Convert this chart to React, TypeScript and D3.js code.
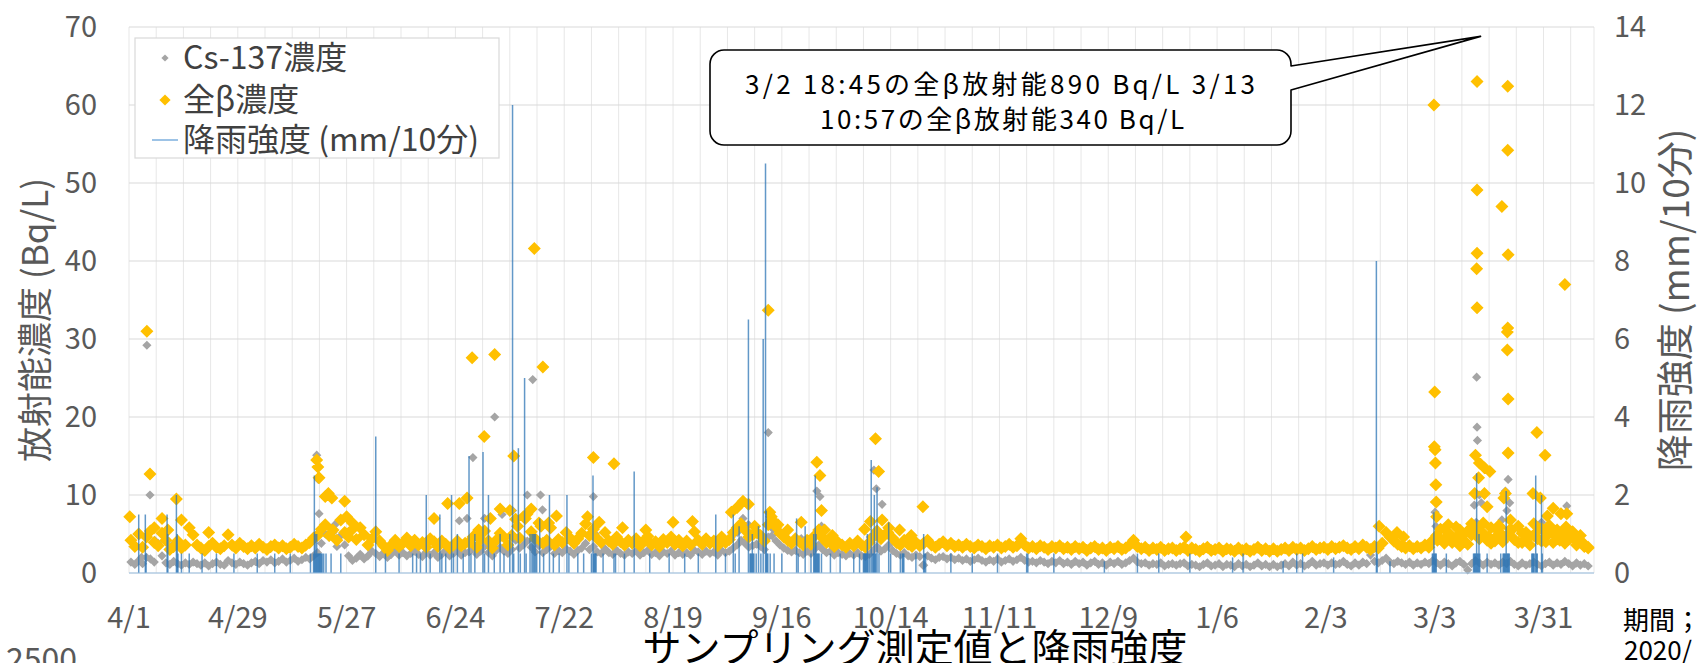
import React from "react";
import * as d3 from "d3";

// ---------- DATA ----------
// day index = days since 2020-04-01
const xTickLabels = ["4/1","4/29","5/27","6/24","7/22","8/19","9/16","10/14","11/11","12/9","1/6","2/3","3/3","3/31"];
const xTickDays = [0,28,56,84,112,140,168,196,224,252,280,308,336,364];
const leftTicks = [0,10,20,30,40,50,60,70];
const rightTicks = [0,2,4,6,8,10,12,14];

// daily 全β concentration (Bq/L), day 0..375
const betaDaily = [
  4.2,3.4,5.0,
  3.3,4.6,5.4,3.9,3.5,5.1,4.2,3.0,3.4,4.1,3.2,3.6,5.8,4.9,
  3.6,3.2,2.9,3.4,3.8,3.3,3.1,3.5,4.9,3.6,3.2,3.8,3.4,3.1,
  3.5,3.2,3.7,3.3,3.0,3.4,3.6,3.2,3.5,3.1,3.3,3.7,3.4,3.2,
  3.6,3.9,4.5,4.8,5.6,6.2,4.8,5.5,4.2,6.8,5.2,4.6,5.6,4.3,
  5.8,4.9,3.6,4.4,5.3,4.1,3.5,2.9,3.6,4.2,3.4,3.8,4.5,3.5,
  4.2,3.6,3.9,3.3,4.4,4.0,3.4,4.1,3.7,3.2,3.6,4.1,3.5,3.8,
  3.9,4.6,3.3,4.3,5.4,4.1,3.2,4.2,5.1,4.6,3.6,4.8,6.9,4.5,
  7.2,7.6,5.3,4.4,6.4,3.8,4.2,5.8,3.6,4.3,3.9,5.2,4.5,3.8,
  4.4,5.1,6.3,4.8,5.6,4.4,3.9,5.2,4.1,3.7,4.6,4.0,3.6,4.2,
  3.8,4.4,3.5,4.1,4.7,3.6,4.0,3.4,4.3,3.9,4.6,3.7,4.2,3.5,
  4.1,3.6,5.3,4.2,3.7,4.4,3.8,4.1,3.5,4.6,3.9,4.3,5.2,5.8,
  6.3,5.5,4.6,4.9,5.2,4.8,4.1,6.2,6.8,5.9,5.1,4.6,4.2,3.8,
  4.4,4.0,3.6,4.2,3.7,4.8,5.5,4.5,3.9,4.3,3.4,3.9,3.6,3.3,
  3.8,3.5,4.1,3.6,3.3,3.9,4.6,5.4,4.4,4.9,5.8,4.5,3.9,3.6,
  4.2,3.7,3.4,3.9,3.5,3.8,4.2,3.6,3.3,3.7,4.0,3.5,3.8,3.4,
  3.6,3.3,3.7,3.4,3.2,3.6,3.4,3.1,3.5,3.3,3.6,3.2,3.4,3.7,
  3.3,3.5,4.4,3.6,3.2,3.4,3.1,3.5,3.3,3.0,3.4,3.2,3.5,3.1,
  3.3,3.0,3.4,3.1,3.3,2.9,3.2,3.4,3.0,3.2,2.9,3.3,3.1,3.4,
  3.0,3.2,3.6,4.2,3.4,3.1,3.3,2.9,3.2,3.0,3.3,2.9,3.1,3.2,
  2.9,3.1,3.3,2.9,3.2,3.0,2.8,3.1,3.3,2.9,3.0,3.2,2.8,3.1,
  3.0,2.8,3.2,2.9,3.1,2.8,3.0,3.3,2.9,3.1,2.8,
  3.1,2.8,3.0,3.2,2.9,3.3,3.0,3.2,2.9,3.1,3.4,3.0,3.2,3.3,
  3.0,3.4,3.1,3.3,3.5,3.2,3.0,3.4,3.1,3.6,3.3,3.0,3.4,3.2,
  3.8,5.2,4.6,4.1,3.7,3.4,3.2,3.5,3.1,3.4,3.2,3.6,3.3,4.2,
  4.8,5.6,4.4,5.2,3.9,4.6,5.5,4.1,3.7,4.9,5.8,4.4,5.1,4.2,
  3.8,4.5,5.3,4.0,4.7,5.6,4.3,3.9,5.1,4.4,3.6,4.8,5.4,4.1,
  4.6,5.2,3.9,4.4,5.0,3.8,4.3,4.9,3.6,4.1,3.4,3.2,
];

// daily Cs-137 concentration (Bq/L), day 0..375
const csDaily = [
  1.4,1.1,1.6,
  1.2,2.0,1.8,1.4,3.8,2.2,1.3,1.1,1.5,1.2,1.0,1.3,1.1,1.4,
  1.2,1.0,1.3,0.9,1.2,1.4,1.1,1.0,1.6,1.3,1.1,1.4,1.2,1.0,
  1.3,1.5,1.2,1.6,1.4,1.7,1.3,1.5,1.8,1.4,1.6,1.9,1.5,1.7,
  2.0,1.8,2.2,2.6,3.8,5.0,4.6,5.2,3.4,4.8,3.6,2.2,1.6,1.9,
  2.4,1.8,2.2,2.8,2.5,2.1,2.6,2.0,2.4,2.9,2.3,2.6,2.2,2.5,
  2.8,2.4,2.1,2.7,2.3,2.6,2.0,2.4,2.9,2.2,2.5,2.8,2.3,2.6,
  2.7,3.1,2.4,2.8,3.4,2.6,2.2,2.9,3.3,2.8,2.5,3.0,4.2,3.2,
  3.6,4.1,3.3,2.7,3.5,2.6,3.0,3.4,2.5,2.9,2.6,3.1,2.8,2.4,
  2.9,3.2,3.8,3.0,3.4,2.7,2.5,3.1,2.6,2.4,2.9,2.5,2.3,2.7,
  2.5,2.8,2.3,2.6,2.9,2.4,2.6,2.2,2.7,2.5,2.8,2.3,2.6,2.4,
  2.6,2.3,2.9,2.7,2.4,2.8,2.5,2.7,2.3,2.9,2.6,2.8,3.2,3.6,
  4.2,3.8,3.3,3.5,3.7,3.4,3.0,4.6,4.8,4.1,3.6,3.2,2.9,2.7,
  2.9,2.6,2.4,2.8,2.5,3.1,3.6,3.0,2.6,2.8,2.3,2.6,2.4,2.2,
  2.5,2.3,2.6,2.2,2.1,2.4,2.9,3.4,2.8,3.1,3.6,2.9,2.5,2.3,
  2.6,2.2,2.0,2.3,2.1,1.0,2.2,1.9,1.7,2.0,2.1,1.8,2.0,1.7,
  1.9,1.6,1.8,1.5,1.7,1.9,1.6,1.4,1.7,1.5,1.8,1.4,1.6,1.8,
  1.5,1.7,2.0,1.6,1.4,1.5,1.3,1.6,1.4,1.2,1.5,1.3,1.6,1.2,
  1.4,1.1,1.5,1.2,1.4,1.0,1.3,1.5,1.1,1.3,1.0,1.4,1.2,1.5,
  1.1,1.3,1.6,1.9,1.4,1.2,1.3,1.0,1.2,1.1,1.3,0.9,1.1,1.2,
  1.0,1.2,1.3,0.9,1.1,1.0,0.8,1.1,1.3,0.9,1.0,1.2,0.8,1.1,
  1.0,0.8,1.2,0.9,1.1,0.8,1.0,1.3,0.9,1.1,0.8,
  1.1,0.8,1.0,1.2,0.9,1.4,1.0,1.2,0.9,1.1,1.5,1.0,1.2,1.3,
  1.0,1.3,1.1,1.2,1.5,1.1,0.9,1.3,1.0,1.4,1.2,2.3,1.5,1.3,
  1.6,1.9,1.4,1.2,1.5,1.3,1.1,1.4,1.0,1.3,1.1,1.4,1.2,1.6,
  1.3,1.0,1.4,1.2,0.9,1.3,1.5,1.1,0.4,1.2,1.6,1.3,1.0,1.4,
  1.1,1.3,1.0,1.4,1.2,1.5,1.1,0.9,1.3,1.0,1.2,1.4,1.1,0.9,
  1.2,1.4,1.0,1.3,1.1,1.5,1.2,0.9,1.3,1.0,1.2,0.9,
];

// additional 全β samples taken during events [day, Bq/L]
const betaEvents: [number, number][] = [
  [0.2,7.2],[4.6,31.0],[5.4,12.7],[6.5,5.8],[8.5,7.0],[10,5.5],[12.2,9.5],[13.5,6.8],[20.5,5.2],
  [48.3,14.5],[48.6,13.6],[48.9,12.2],[50.5,9.8],[51.3,10.2],[52.2,9.6],[55.5,9.2],[56,7.2],[57.5,6.4],
  [78.5,7.0],[82,8.9],[85,8.9],[87,9.6],[88.3,27.6],[90,5.5],[91.4,17.5],[93,7.0],[94.1,28.0],
  [95.5,8.2],[98,8.0],[99,15.0],[100,6.0],[102,7.0],[104.3,41.6],[103.5,8.2],[106.5,26.4],[106,6.0],
  [108,6.4],[110,7.3],
  [118,7.2],[119.5,14.8],[121,6.5],[124.8,14.0],[127,5.8],[133,5.5],[140,6.5],[145,6.6],
  [155,7.8],[156.5,8.4],[158,9.2],[159.4,8.8],[161,6.0],[164.5,33.7],[164.9,7.8],[165.3,7.2],[167,6.2],
  [169.5,5.5],[173,6.5],[177,14.2],[177.8,12.5],[178.2,8.0],[179,5.5],[181,4.8],
  [189.3,5.6],[190.8,6.6],[192.1,17.2],[192.9,13.0],[193.8,6.8],[195.3,5.2],[198.3,5.5],[201.3,4.8],[204.3,8.5],
  [272,4.6],[321.7,6.0],[326.3,5.2],[328,4.6],
  [335.8,60.0],[336.0,23.2],[335.9,16.2],[336.1,15.8],[336.2,14.1],[336.3,11.3],[336.4,9.1],[336.5,7.2],
  [336.7,4.2],[337.5,5.6],[338.5,3.8],[339.5,6.2],[340.5,4.5],[341.5,5.9],[342.5,3.5],[343.5,4.9],
  [344.5,5.4],[345.5,6.3],
  [346.9,63.0],[346.9,49.1],[346.9,41.0],[346.8,39.0],[346.9,34.0],[346.5,15.1],[347.5,14.1],[348.8,13.5],
  [350.2,13.0],[346.3,10.2],[348.8,10.2],[349.5,8.5],[347.3,12.2],
  [347.8,5.2],[348.5,6.4],[349.8,4.6],[350.5,5.8],[351.5,4.1],[352.5,6.1],[353.5,4.8],
  [354.8,62.4],[354.8,54.2],[353.3,47.0],[354.9,40.8],[354.8,31.4],[354.7,30.9],[354.7,28.6],[354.9,22.3],
  [354.9,15.4],[354.2,10.2],[353.8,9.6],[352.8,5.9],[355.5,6.8],
  [355.8,5.5],[356.5,4.3],[357.5,6.0],[358.5,3.9],[359.5,5.2],[360.5,4.7],[361.5,6.3],[362.5,4.4],
  [361.3,10.2],[362.3,18.0],[363.2,9.6],[364.4,15.1],[365.0,7.3],[366.5,8.3],[368.5,7.6],[369.5,37.0],
  [370.0,7.6],[371,5.1],[363.5,5.7],[364.6,4.0],[365.5,6.1],[366.8,4.9],[367.5,5.5],[368.2,4.2],
  [369.8,5.9],[370.5,4.6],[371.5,5.3],[372.5,4.1],[373.5,4.8],[374.5,3.7],[375.5,3.3],
];

// additional Cs-137 samples taken during events [day, Bq/L]
const csEvents: [number, number][] = [
  [3.2,2.0],[4.6,29.2],[5.4,10.0],[6.6,4.2],[11,3.5],
  [48.3,15.1],[48.7,12.0],[48.9,7.6],[49.5,5.2],[53,6.2],[55.3,5.0],
  [85,6.7],[87,7.0],[88.5,14.8],[91.5,7.0],[94.1,20.0],[96,7.5],[98.7,8.0],[102.5,10.0],[103.3,8.2],
  [103.9,24.8],[105.9,10.0],[106.4,8.1],
  [119.5,9.8],[120,5.0],[125,4.2],
  [155,4.6],[156.5,5.2],[158,7.0],[159.4,6.2],[164.5,18.0],[165.1,6.8],[165.8,5.6],[173,4.4],
  [177,10.5],[177.8,9.8],[178.2,6.0],
  [190.8,4.6],[191.7,13.2],[192.3,10.8],[193.8,8.8],[204.3,1.0],
  [336.1,7.8],[336.3,6.0],
  [346.8,25.1],[346.9,18.7],[347.0,17.0],[347.2,12.3],[346.2,8.7],[347.5,10.0],[348,9.0],[346.7,6.5],
  [354.9,12.0],[354.2,10.5],[353.3,6.8],[355.3,9.0],[354.6,8.0],
  [362.5,5.8],[363.5,6.5],[366.3,5.0],[370,8.6],
];

// rainfall intensity (mm / 10 min) [day, mm]
const rainEvents: [number, number][] = [
  [2.5,1.5],[4.2,1.5],[4.4,0.5],[9.8,1.5],[10.0,1.0],[12.2,2.0],[12.4,1.0],[12.6,0.5],[13.5,0.5],
  [15.5,0.5],[18.8,0.5],[22.5,0.5],[27.0,0.5],[33.0,0.5],[37.5,0.5],[41.5,0.5],
  [46.7,0.5],[47.5,0.5],[47.7,2.5],[47.9,1.0],[48.1,0.5],[48.3,1.0],[48.5,0.5],[48.7,0.5],[48.9,0.5],
  [49.1,0.5],[49.3,0.5],[49.5,0.5],[49.7,0.5],[50.1,0.5],[50.7,0.5],[52.0,0.5],[54.5,0.5],
  [63.5,3.5],[66.0,0.5],[69.5,0.5],[73.0,0.5],[74.0,0.5],[75.0,0.5],[76.5,2.0],[77.5,0.5],[80.0,1.5],
  [80.5,0.5],[81.5,0.5],[83.0,2.0],[83.5,0.5],[84.5,1.0],[86.0,0.5],[87.5,3.0],[88.0,0.5],[89.0,1.0],
  [91.1,3.1],[91.5,0.5],[92.5,2.0],
  [94.0,0.5],[95.5,1.0],[96.5,0.5],[98.0,1.0],[98.7,12.0],[99.0,0.5],[100.2,3.2],[100.7,0.5],[101.8,5.0],
  [102.2,0.5],[103.2,1.0],[103.7,1.0],[104.0,1.0],[104.3,1.0],[104.6,1.0],[104.9,0.5],[105.7,1.4],
  [106.7,0.5],[108.2,2.0],[109.2,0.5],[110.7,0.5],[112.7,2.0],[113.2,0.5],
  [115.5,0.5],[117.0,0.5],[119.0,0.5],[119.4,2.5],[119.6,0.5],[119.8,0.5],[120.0,0.5],[120.2,0.5],[122.0,0.5],
  [124.8,0.5],[125.2,0.5],[127.5,0.5],[130.0,2.6],[134.0,0.5],[139.0,0.5],[143.0,0.5],[146.5,0.5],[151.0,1.5],
  [153.5,0.5],[155.5,1.5],[156.0,0.5],[157.0,1.2],[159.4,6.5],[159.8,0.5],[160.0,0.5],[160.2,0.5],
  [160.4,1.0],[160.6,0.5],[160.8,0.5],[161.4,0.5],[162.0,1.2],[162.6,0.5],[163.2,6.0],[163.8,10.5],
  [164.0,1.6],[164.2,0.5],[164.4,0.5],[165.0,0.5],[166.0,0.5],[168.0,0.5],[171.8,1.4],[172.2,0.5],
  [174.0,1.2],[175.5,0.5],[176.2,1.0],[176.4,0.5],[176.6,2.5],[176.8,1.0],[177.0,0.5],[177.2,0.5],
  [177.4,0.5],[177.6,0.5],[178.2,0.5],[180.5,0.5],[183.0,0.5],
  [186.5,0.5],[188.0,0.5],[189.0,0.5],[189.2,0.5],[189.4,0.5],[189.6,0.5],[189.8,0.5],[190.0,1.0],
  [190.2,0.5],[190.6,0.5],[191.0,2.9],[191.4,0.5],[191.6,0.5],[191.8,2.0],[192.0,0.5],[192.2,0.5],
  [192.5,2.2],[193.0,0.5],[195.5,1.3],[196.0,0.5],[198.5,0.5],[199.0,0.5],[199.2,0.5],[199.4,0.5],
  [202.5,0.5],[204.5,1.0],[204.7,0.5],[205.0,0.5],
  [211.5,0.5],[217.0,0.5],[223.5,0.5],[231.0,0.5],[231.3,0.5],[238.0,0.5],
  [251.0,0.3],[259.5,0.5],[265.0,0.5],[273.0,0.5],[284.0,0.4],[286.7,0.5],[297.0,0.3],
  [300.5,0.5],[302.0,0.5],[310.0,0.4],[321.0,8.0],[321.2,0.5],[324.5,0.3],
  [335.4,0.5],[335.6,0.5],[335.8,1.56],[336.0,0.5],[336.2,0.5],[336.4,0.5],[339.0,0.5],
  [346.0,0.5],[346.2,0.5],[346.4,0.5],[346.6,0.5],[346.8,2.56],[347.0,0.5],[347.2,0.5],[347.4,1.0],
  [347.6,0.5],[349.5,0.5],[353.0,0.5],[353.6,0.5],[353.8,0.5],[354.0,0.5],[354.2,0.5],[354.4,2.1],
  [354.6,0.5],[354.8,0.5],[355.0,0.5],[355.2,0.5],[361.0,0.5],[361.2,0.5],[361.4,0.5],[361.6,0.5],
  [362.0,2.5],[362.2,0.5],[362.4,0.5],[363.5,2.0],[363.7,0.5],
];

const legendLabels = ["Cs-137濃度", "全β濃度", "降雨強度 (mm/10分)"];
const calloutLines = ["3/2  18:45の全β放射能890 Bq/L 3/13", "10:57の全β放射能340 Bq/L"];

// ---------- CHART ----------
const START = Date.UTC(2020, 3, 1);
const dayToDate = (d: number) => new Date(START + d * 86400000);

const FONT = '"Noto Sans CJK JP", "Noto Sans", sans-serif';
const GOLD = "#FFC000";
const GRAY = "#A5A5A5";
const TXT = "#595959";

const x = d3.scaleUtc().domain([dayToDate(0), dayToDate(377)]).range([129, 1594]);
const yL = d3.scaleLinear().domain([0, 70]).range([573, 27]);
const yR = d3.scaleLinear().domain([0, 14]).range([573, 27]);

const diamond = (cx: number, cy: number, h: number) =>
  `M${cx},${cy - h}L${cx + h},${cy}L${cx},${cy + h}L${cx - h},${cy}Z`;

export default function App() {
  const [x0, x1] = x.range();
  const [yBottom, yTop] = yL.range();
  const weekly = d3.range(0, 372, 7);

  const betaPts: [number, number][] = betaDaily.map((v, i) => [i + 0.5, v] as [number, number]).concat(betaEvents);
  const csPts: [number, number][] = csDaily.map((v, i) => [i + 0.5, v] as [number, number]).concat(csEvents);

  const gPath = betaPts.map(([d, v]) => diamond(x(dayToDate(d)), yL(v), 6.5)).join("");
  const cPath = csPts.map(([d, v]) => diamond(x(dayToDate(d)), yL(v), 4.6)).join("");

  // callout geometry
  const bx0 = 710, by0 = 50, bx1 = 1291, by1 = 145, r = 14;
  const tipX = x(dayToDate(347.8));
  const tipY = yL(68.8);
  const callout =
    `M${bx0 + r},${by0} H${bx1 - r} A${r},${r} 0 0 1 ${bx1},${by0 + r} V66 L${tipX},${tipY} L${bx1},90 ` +
    `V${by1 - r} A${r},${r} 0 0 1 ${bx1 - r},${by1} H${bx0 + r} A${r},${r} 0 0 1 ${bx0},${by1 - r} ` +
    `V${by0 + r} A${r},${r} 0 0 1 ${bx0 + r},${by0} Z`;

  return (
    <svg width={1700} height={663} style={{ display: "block", position: "absolute", left: 0, top: 0 }}
      fontFamily={FONT}>
      <rect x={0} y={0} width={1700} height={663} fill="#fff" />
      {/* vertical gridlines (weekly) */}
      {weekly.map((d) => (
        <line key={"v" + d} x1={x(dayToDate(d))} x2={x(dayToDate(d))} y1={yTop} y2={yBottom}
          stroke="#e7e7e7" strokeWidth={1} />
      ))}
      <line x1={x1} x2={x1} y1={yTop} y2={yBottom} stroke="#e7e7e7" />
      {/* horizontal gridlines */}
      {leftTicks.map((t) => (
        <line key={"h" + t} x1={x0} x2={x1} y1={yL(t)} y2={yL(t)} stroke="#d9d9d9" strokeWidth={1} />
      ))}
      {/* series */}
      <path d={cPath} fill={GRAY} />
      <path d={gPath} fill={GOLD} />
      {rainEvents.map(([d, v], i) => (
        <line key={"r" + i} x1={x(dayToDate(d))} x2={x(dayToDate(d))} y1={yR(0)} y2={yR(v)}
          stroke="#2e75b6" strokeWidth={1.5} strokeOpacity={0.75} />
      ))}
      <line x1={x0} x2={x1} y1={yL(0)} y2={yL(0)} stroke="#9dc3e6" strokeWidth={1.2} />

      {/* left ticks */}
      {leftTicks.map((t) => (
        <text key={"lt" + t} x={97} y={yL(t) + 10} textAnchor="end" fontSize={29} fill={TXT}>{t}</text>
      ))}
      {/* right ticks */}
      {rightTicks.map((t) => (
        <text key={"rt" + t} x={1614} y={yR(t) + 10} textAnchor="start" fontSize={29} fill={TXT}>{t}</text>
      ))}
      {/* x ticks */}
      {xTickDays.map((d, i) => (
        <text key={"xt" + d} x={x(dayToDate(d))} y={628} textAnchor="middle" fontSize={29} fill={TXT}>
          {xTickLabels[i]}
        </text>
      ))}

      {/* axis titles */}
      <text transform={`translate(48,320) rotate(-90)`} textAnchor="middle" fontSize={35} fill={TXT}>
        放射能濃度 (Bq/L)
      </text>
      <text transform={`translate(1689,300) rotate(-90)`} textAnchor="middle" fontSize={37} fill={TXT}>
        降雨強度 (mm/10分)
      </text>

      {/* legend */}
      <rect x={135} y={38} width={364} height={120} fill="#fff" stroke="#d9d9d9" strokeWidth={1.2} />
      <path d={diamond(165, 58, 3.6)} fill={GRAY} />
      <path d={diamond(165, 100, 5.6)} fill={GOLD} />
      <line x1={152} x2={178} y1={140} y2={140} stroke="#9dc3e6" strokeWidth={2} />
      {legendLabels.map((l, i) => (
        <text key={l} x={183} y={[58, 100, 140][i] + 11} fontSize={32} fill="#404040">{l}</text>
      ))}

      {/* callout */}
      <path d={callout} fill="#fff" stroke="#000" strokeWidth={1.6} strokeLinejoin="round" />
      <text x={1000} y={94} textAnchor="middle" fontSize={26} fill="#000" textLength={510}
        lengthAdjust="spacing">{calloutLines[0]}</text>
      <text x={1002} y={129} textAnchor="middle" fontSize={26} fill="#000" textLength={364}
        lengthAdjust="spacing">{calloutLines[1]}</text>

      {/* bottom texts */}
      <text x={915} y={662} textAnchor="middle" fontSize={39} fill="#000">サンプリング測定値と降雨強度</text>
      <text x={1623} y={630} fontSize={26} fill="#000">期間；</text>
      <text x={1624} y={660} fontSize={26} fill="#000">2020/</text>
      <text x={6} y={671} fontSize={32} fill={TXT}>2500</text>
    </svg>
  );
}
